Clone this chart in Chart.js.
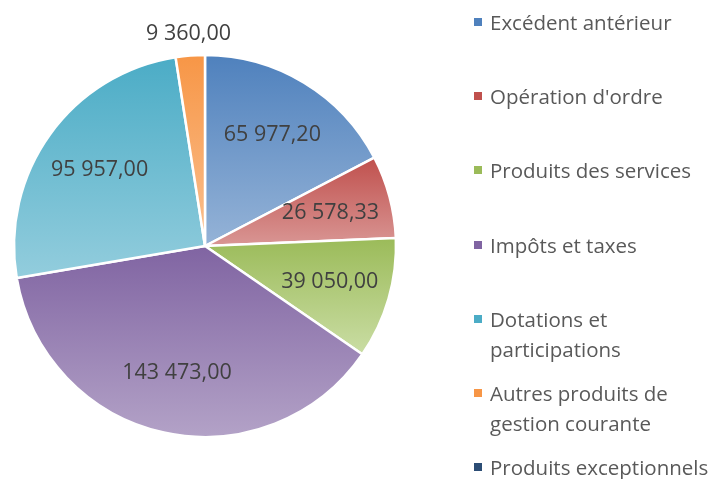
<!DOCTYPE html>
<html>
<head>
<meta charset="utf-8">
<script src="https://cdn.jsdelivr.net/npm/chart.js@4/dist/chart.umd.min.js"></script>
<style>
  body { margin: 0; background: #fff; }
  #wrap { position: relative; width: 714px; height: 479px; }
  #legend { position: absolute; left: 0; top: 0; font-family: "Open Sans", sans-serif; font-size: 20.5px; color: #595959; }
  .item { position: absolute; left: 474px; line-height: 30px; white-space: nowrap; }
  .item i { position: absolute; left: 0; top: 11px; width: 8px; height: 8px; }
  .item span { display: block; margin-left: 16px; }
</style>
</head>
<body>
<div id="wrap">
  <canvas id="myChart" width="714" height="479"></canvas>
  <div id="legend"></div>
</div>
<script>
    const labels = ['Excédent antérieur', "Opération d'ordre", 'Produits des services', 'Impôts et taxes',
        'Dotations et participations', 'Autres produits de gestion courante', 'Produits exceptionnels'];
    const legendLines = [['Excédent antérieur'], ["Opération d'ordre"], ['Produits des services'], ['Impôts et taxes'],
        ['Dotations et', 'participations'], ['Autres produits de', 'gestion courante'], ['Produits exceptionnels']];
    const values = [65977.20, 26578.33, 39050.00, 143473.00, 95957.00, 9360.00, 0];
    const darkColors = ['#4F81BD', '#C0504D', '#9BBB59', '#8064A2', '#4BACC6', '#F79646', '#2C4D75'];
    const lightColors = ['#95B3D7', '#D99694', '#CADDA4', '#B3A2C7', '#93CDDD', '#FAC090', '#5A7DB0'];

    const RADIUS = 191;
    const total = values.reduce((a, b) => a + b, 0);

    function fmt(v) {
        const parts = v.toFixed(2).split('.');
        return parts[0].replace(/\B(?=(\d{3})+(?!\d))/g, ' ') + ',' + parts[1];
    }

    // gradient per slice, top of the slice darker, bottom lighter
    function sliceFill(c) {
        const chart = c.chart;
        const i = c.dataIndex;
        const area = chart.chartArea;
        if (!area) return darkColors[i];
        const cy = (area.top + area.bottom) / 2;
        let cum = 0;
        for (let k = 0; k < i; k++) cum += values[k];
        const start = -Math.PI / 2 + 2 * Math.PI * cum / total;
        const end = start + 2 * Math.PI * values[i] / total;
        const ys = [cy, cy + RADIUS * Math.sin(start), cy + RADIUS * Math.sin(end)];
        if (start <= Math.PI / 2 && end >= Math.PI / 2) ys.push(cy + RADIUS);
        if (start <= -Math.PI / 2 || end >= 3 * Math.PI / 2) ys.push(cy - RADIUS);
        const y0 = Math.min(...ys), y1 = Math.max(...ys);
        if (y1 - y0 < 1) return darkColors[i];
        const g = chart.ctx.createLinearGradient(0, y0, 0, y1);
        g.addColorStop(0, darkColors[i]);
        g.addColorStop(1, lightColors[i]);
        return g;
    }

    const valueLabels = {
        id: 'valueLabels',
        afterDatasetsDraw(chart) {
            const ctx = chart.ctx;
            const meta = chart.getDatasetMeta(0);
            ctx.save();
            ctx.font = '21.5px "Open Sans", sans-serif';
            ctx.fillStyle = '#404040';
            ctx.textAlign = 'center';
            ctx.textBaseline = 'middle';
            meta.data.forEach((arc, i) => {
                if (!values[i]) return;
                const p = arc.getProps(['x', 'y', 'startAngle', 'endAngle', 'outerRadius'], true);
                const mid = (p.startAngle + p.endAngle) / 2;
                const r = values[i] / total < 0.04 ? p.outerRadius + 22 : p.outerRadius * 0.68;
                ctx.fillText(fmt(values[i]), p.x + Math.cos(mid) * r, p.y + Math.sin(mid) * r);
            });
            ctx.restore();
        }
    };

    new Chart("myChart", {
        type: 'pie',
        data: {
            labels: labels,
            datasets: [{
                data: values,
                backgroundColor: sliceFill,
                borderColor: '#ffffff',
                borderWidth: 2.5,
                hoverOffset: 0
            }]
        },
        options: {
            responsive: false,
            animation: false,
            radius: RADIUS,
            layout: { padding: { left: 14, right: 714 - 396, top: 55, bottom: 479 - 437 } },
            plugins: {
                legend: { display: false },
                tooltip: { enabled: false }
            }
        },
        plugins: [valueLabels]
    });

    const legend = document.getElementById('legend');
    legendLines.forEach((lines, i) => {
        const d = document.createElement('div');
        d.className = 'item';
        d.style.top = (7 + i * 74.2) + 'px';
        d.innerHTML = '<i style="background:' + darkColors[i] + '"></i><span>' + lines.join('<br>') + '</span>';
        legend.appendChild(d);
    });
</script>
</body>
</html>
